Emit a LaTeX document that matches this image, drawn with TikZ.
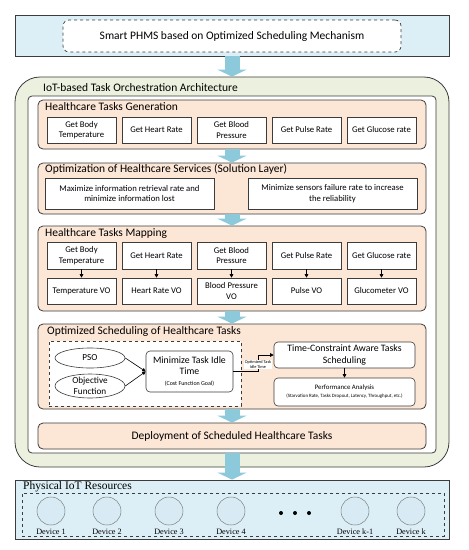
\documentclass[tikz,border=0pt]{standalone}
\usepackage{fontspec}
\setmainfont{Carlito}
\newfontfamily\devfont{Liberation Serif}
\usetikzlibrary{arrows.meta,shapes.geometric,positioning}

\definecolor{bannerblue}{RGB}{220,238,246}
\definecolor{flowblue}{RGB}{140,202,219}
\definecolor{archgreen}{RGB}{235,241,222}
\definecolor{layerorange}{RGB}{252,230,214}
\definecolor{devblue}{RGB}{216,235,244}
\definecolor{edgegray}{RGB}{60,60,60}

\tikzset{
  flow/.style={draw=flowblue, line width=15pt, -{Triangle[width=29pt,length=7pt]}},
  layer/.style={draw=edgegray, fill=layerorange, rounded corners=5pt, line width=0.8pt},
  layertitle/.style={anchor=west, inner sep=0pt, font=\fontsize{11.5}{13}\selectfont},
  taskbox/.style={draw=edgegray, fill=white, line width=0.6pt, minimum width=69pt,
    minimum height=26pt, align=center, inner sep=1pt, font=\fontsize{8.7}{10.5}\selectfont},
  goalbox/.style={draw=edgegray, fill=white, line width=0.6pt, minimum width=169pt,
    minimum height=31pt, align=center, inner sep=1pt,
    font=\fontsize{8.7}{10.5}\selectfont},
  stepbox/.style={draw=edgegray, fill=white, line width=0.6pt, rounded corners=4pt,
    align=center, inner sep=1pt},
  optoval/.style={draw=edgegray, fill=white, ellipse, line width=0.6pt, minimum width=70pt,
    align=center, inner sep=0pt, font=\fontsize{9.2}{10.5}\selectfont},
  link/.style={draw=black, line width=0.6pt, -{Triangle[length=3.5pt,width=3.5pt]}},
  device/.style={circle, draw=gray, fill=devblue, minimum size=28pt, line width=0.5pt},
  devlabel/.style={inner sep=0pt, font=\devfont\fontsize{8.2}{9}\selectfont}
}

\begin{document}
\begin{tikzpicture}[x=1pt,y=-1pt]
  \useasboundingbox (0,0) rectangle (469,550);

  % Banner
  \node[draw=edgegray, fill=bannerblue, line width=0.8pt, minimum width=434pt, minimum height=41pt] (banner) at (232,35.5) {};
  \node[draw=edgegray, fill=white, dashed, rounded corners=6pt, line width=0.7pt, minimum width=338pt, minimum height=32pt,
    font=\fontsize{11.5}{13}\selectfont] (phms) at (232,36) {Smart PHMS based on Optimized Scheduling Mechanism};

  % Architektur
  \node[draw=edgegray, fill=archgreen, rounded corners=25pt, line width=0.8pt, minimum width=434pt, minimum height=390pt] (arch) at (232,272) {};
  \node[layertitle] (archtitle) at (43,88) {IoT-based Task Orchestration Architecture};
  \node[draw=edgegray, fill=white, rounded corners=4pt, line width=0.8pt, minimum width=408pt, minimum height=357pt] (inner) at (232,274.5) {};

  % Generation
  \node[layer, minimum width=388pt, minimum height=49pt] (gen) at (232,124.5) {};
  \node[layertitle] (gentitle) at (45,107) {Healthcare Tasks Generation};
  \node[taskbox] (g1) at (81.5,130) {Get Body\\Temperature};
  \node[taskbox] (g2) at (156.5,130) {Get Heart Rate};
  \node[taskbox] (g3) at (231.5,130) {Get Blood\\Pressure};
  \node[taskbox] (g4) at (306.5,130) {Get Pulse Rate};
  \node[taskbox] (g5) at (381.5,130) {Get Glucose rate};

  % Solution Layer
  \node[layer, minimum width=388pt, minimum height=51pt] (opt) at (232,188.5) {};
  \node[layertitle] (opttitle) at (45,169) {Optimization of Healthcare Services (Solution Layer)};
  \node[goalbox] (o1) at (129.5,193.5) {Maximize information retrieval rate and\\minimize information lost};
  \node[goalbox] (o2) at (332.5,193.5) {Minimize sensors failure rate to increase\\the reliability};

  % Mapping
  \node[layer, minimum width=388pt, minimum height=85pt] (map) at (232,268.5) {};
  \node[layertitle] (maptitle) at (45,233) {Healthcare Tasks Mapping};
  \node[taskbox, minimum height=27pt] (m1) at (81.5,255.5) {Get Body\\Temperature};
  \node[taskbox, minimum height=27pt] (m2) at (156.5,255.5) {Get Heart Rate};
  \node[taskbox, minimum height=27pt] (m3) at (231.5,255.5) {Get Blood\\Pressure};
  \node[taskbox, minimum height=27pt] (m4) at (306.5,255.5) {Get Pulse Rate};
  \node[taskbox, minimum height=27pt] (m5) at (381.5,255.5) {Get Glucose rate};
  \node[taskbox] (v1) at (81.5,291) {Temperature VO};
  \node[taskbox] (v2) at (156.5,291) {Heart Rate VO};
  \node[taskbox] (v3) at (231.5,291) {Blood Pressure\\VO};
  \node[taskbox] (v4) at (306.5,291) {Pulse VO};
  \node[taskbox] (v5) at (381.5,291) {Glucometer VO};
  \draw[link] (m1) -- (v1);
  \draw[link] (m2) -- (v2);
  \draw[link] (m3) -- (v3);
  \draw[link] (m4) -- (v4);
  \draw[link] (m5) -- (v5);

  % Scheduling
  \node[layer, minimum width=388pt, minimum height=85pt] (sched) at (232,366.5) {};
  \node[layertitle] (schedtitle) at (47,331) {Optimized Scheduling of Healthcare Tasks};
  \node[draw=edgegray, fill=white, dashed, line width=0.7pt, minimum width=192pt, minimum height=65pt] (pso box) at (145,373.5) {};
  \node[optoval, minimum height=20pt] (pso) at (90,358) {PSO};
  \node[optoval, minimum height=23pt] (obj) at (90,386) {Objective\\Function};
  \node[stepbox, minimum width=87pt, minimum height=41pt, font=\fontsize{9.8}{11.5}\selectfont] (mini) at (189.5,371.5)
    {Minimize Task Idle\\Time\\[-1pt]{\fontsize{6}{7}\selectfont (Cost Function Goal)}};
  \node[stepbox, minimum width=141pt, minimum height=26pt, font=\fontsize{9.8}{11.5}\selectfont] (tc) at (344.5,355)
    {Time-Constraint Aware Tasks\\Scheduling};
  \node[stepbox, minimum width=141pt, minimum height=28pt, font=\fontsize{6.8}{8}\selectfont] (perf) at (344.5,392)
    {Performance Analysis\\{\fontsize{4.9}{6}\selectfont(Starvation Rate, Tasks Dropout, Latency, Throughput, etc.)}};
  \draw[link] (pso.east) -- (mini.west);
  \draw[link] (obj.east) -- (mini.west);
  \draw[link] (mini.east) -- ++(25,0) coordinate (bend) |- (tc.west);
  \node[fill=white, inner sep=0.5pt, align=center, font=\fontsize{4.3}{5}\selectfont] (idle) at (258,364.5) {Optimized Task\\Idle Time};
  \draw[link] (tc) -- (perf);

  % Deployment
  \node[layer, minimum width=388pt, minimum height=26pt, font=\fontsize{11.5}{13}\selectfont] (deploy) at (232,436)
    {Deployment of Scheduled Healthcare Tasks};

  % IoT Ressourcen
  \node[draw=edgegray, fill=bannerblue, line width=0.8pt, minimum width=434pt, minimum height=59pt] (phys) at (232,509.5) {};
  \node[anchor=west, inner sep=0pt, font=\devfont\fontsize{11.5}{13}\selectfont] (phystitle) at (23,487) {Physical IoT Resources};
  \node[draw=edgegray, dashed, line width=0.7pt, minimum width=422pt, minimum height=43pt] (devices) at (233,514.5) {};
  \node[device] (d1) at (51,511) {};
  \node[device] (d2) at (107,511) {};
  \node[device] (d3) at (169,511) {};
  \node[device] (d4) at (231,511) {};
  \node[device] (dk1) at (355,511) {};
  \node[device] (dk) at (411,511) {};
  \node[devlabel] at (51,532) {Device 1};
  \node[devlabel] at (107,532) {Device 2};
  \node[devlabel] at (169,532) {Device 3};
  \node[devlabel] at (231,532) {Device 4};
  \node[devlabel] at (355,532) {Device k-1};
  \node[devlabel] at (411,532) {Device k};
  \fill[black] (281,513) circle (2pt) (295,513) circle (2pt) (309,513) circle (2pt);

  % Pfeile
  \draw[flow] (banner.south) -- (arch.north);
  \draw[flow] (gen.south) -- (opt.north);
  \draw[flow] (opt.south) -- (map.north);
  \draw[flow] (map.south) -- (sched.north);
  \draw[flow] (sched.south) -- (deploy.north);
  \draw[flow] (inner.south) -- (phys.north);
\end{tikzpicture}
\end{document}
